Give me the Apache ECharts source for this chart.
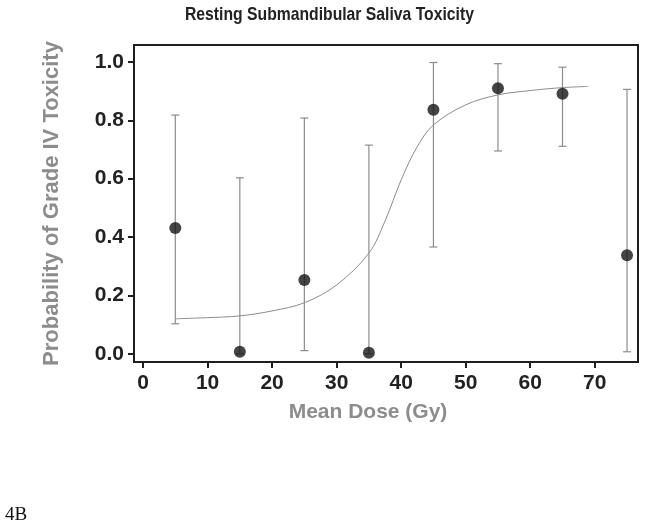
<!DOCTYPE html>
<html>
<head>
<meta charset="utf-8">
<script src="https://cdn.jsdelivr.net/npm/echarts@6/dist/echarts.min.js"></script>
<style>
  html, body { margin: 0; padding: 0; background: #fff; }
  #chart { width: 645px; height: 527px; }
</style>
</head>
<body>
<div id="chart"></div>
<script>
// observed dose groups (Gy) with probability and error bar limits
const doses = [5, 15, 25, 35, 45, 55, 65, 75]
const probs = [0.431, 0.007, 0.253, 0.004, 0.836, 0.910, 0.891, 0.338]
const lower = [0.103, 0.0, 0.011, 0.0, 0.366, 0.695, 0.711, 0.007]
const upper = [0.818, 0.603, 0.808, 0.715, 0.998, 0.994, 0.982, 0.906]

// fitted curve
const fitDose = [5, 10, 15, 20, 25, 30, 35, 37.5, 40, 42.5, 45, 50, 55, 60, 65, 69]
const fitProb = [0.120, 0.124, 0.130, 0.147, 0.175, 0.236, 0.345, 0.455, 0.596, 0.710, 0.784, 0.853, 0.887, 0.902, 0.912, 0.916]

const xTicks = [0, 10, 20, 30, 40, 50, 60, 70]
const yTicks = [0, 0.2, 0.4, 0.6, 0.8, 1.0]

const chart = echarts.init(document.getElementById('chart'))

const font = 'Liberation Sans, Arial, sans-serif'
const grey = '#8c8c8c'

chart.setOption({
  animation: false,
  grid: {
    left: 134,
    right: 7,
    top: 45,
    bottom: 165,
    show: true,
    borderColor: '#1e1e1e',
    borderWidth: 2,
    backgroundColor: '#fff'
  },
  xAxis: {
    type: 'value',
    min: -1.4,
    max: 76.7,
    splitLine: { show: false },
    axisLine: { show: false, onZero: false },
    axisTick: { show: true, length: 6, customValues: xTicks, lineStyle: { color: '#1e1e1e', width: 2 } },
    axisLabel: {
      customValues: xTicks,
      margin: 11,
      fontFamily: font, fontSize: 21, fontWeight: 'bold', color: '#222'
    },
    name: 'Mean Dose (Gy)',
    nameLocation: 'middle',
    nameGap: 40,
    nameTextStyle: {
      fontFamily: font, fontSize: 21, fontWeight: 'bold', color: grey,
      padding: [0, 36, 0, 0]
    }
  },
  yAxis: {
    type: 'value',
    min: -0.028,
    max: 1.058,
    splitLine: { show: false },
    axisLine: { show: false, onZero: false },
    axisTick: { show: true, length: 6, customValues: yTicks, lineStyle: { color: '#1e1e1e', width: 2 } },
    axisLabel: {
      customValues: yTicks,
      margin: 10,
      formatter: v => v.toFixed(1),
      fontFamily: font, fontSize: 21, fontWeight: 'bold', color: '#222'
    },
    name: 'Probability of Grade IV Toxicity',
    nameLocation: 'middle',
    nameGap: 71,
    nameTextStyle: { fontFamily: font, fontSize: 22, fontWeight: 'bold', color: grey }
  },
  graphic: [
    {
      // title, squeezed a little to look like the condensed face
      type: 'text',
      x: 185,
      y: 15,
      scaleX: 0.85,
      style: {
        text: 'Resting Submandibular Saliva Toxicity',
        font: 'bold 18.5px "Liberation Sans", Arial, sans-serif',
        fill: '#222',
        verticalAlign: 'middle'
      }
    },
    {
      type: 'text',
      left: 5,
      top: 506,
      style: { text: '4B', font: '19px "Liberation Serif", serif', fill: '#111' }
    }
  ],
  series: [
    {
      // fitted sigmoid
      type: 'line',
      data: fitDose.map((d, i) => [d, fitProb[i]]),
      smooth: 0.35,
      showSymbol: false,
      lineStyle: { color: grey, width: 1 },
      z: 2
    },
    {
      // error bars
      type: 'custom',
      data: doses.map((d, i) => [d, lower[i], upper[i]]),
      renderItem: (params, api) => {
        const top = api.coord([api.value(0), api.value(2)])
        const bot = api.coord([api.value(0), api.value(1)])
        const hw = 4
        const style = { stroke: grey, lineWidth: 1.2 }
        return {
          type: 'group',
          children: [
            { type: 'line', shape: { x1: top[0], y1: top[1], x2: bot[0], y2: bot[1] }, style },
            { type: 'line', shape: { x1: top[0] - hw, y1: top[1], x2: top[0] + hw, y2: top[1] }, style },
            { type: 'line', shape: { x1: bot[0] - hw, y1: bot[1], x2: bot[0] + hw, y2: bot[1] }, style }
          ]
        }
      },
      z: 3
    },
    {
      type: 'scatter',
      data: doses.map((d, i) => [d, probs[i]]),
      symbolSize: 12,
      itemStyle: { color: '#151515' },
      z: 4
    }
  ]
})
</script>
</body>
</html>
